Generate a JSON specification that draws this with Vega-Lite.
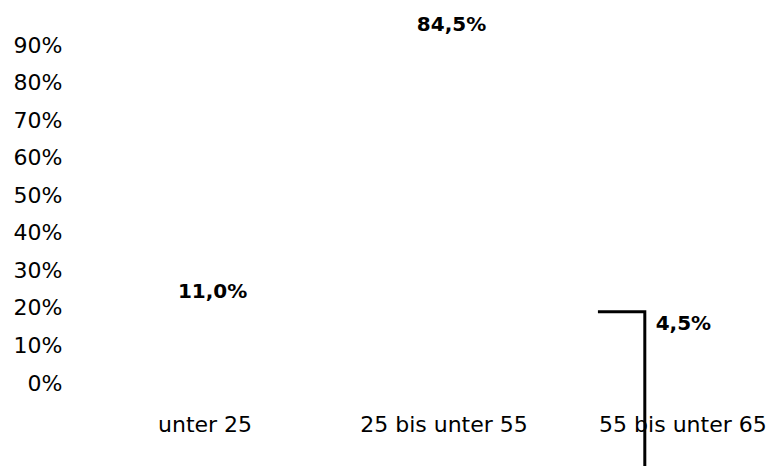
{
  "$schema": "https://vega.github.io/schema/vega-lite/v6.json",
  "width": 583,
  "height": 338,
  "autosize": {"type": "none"},
  "padding": {"left": 158, "top": 45, "right": 30, "bottom": 83},
  "background": "white",
  "config": {
    "view": {"stroke": null},
    "font": "DejaVu Sans",
    "locale": {"number": {"decimal": ",", "thousands": ".", "grouping": [3], "currency": ["", " €"]}}
  },
  "datasets": {
    "shares": [
      {"Alter": "unter 25", "Anteil": 0.11},
      {"Alter": "25 bis unter 55", "Anteil": 0.845},
      {"Alter": "55 bis unter 65", "Anteil": 0.045}
    ],
    "linie": [
      {"px": 1.611, "py": 0.19, "ord": 1},
      {"px": 1.804, "py": 0.19, "ord": 2},
      {"px": 1.804, "py": -0.25, "ord": 3}
    ]
  },
  "resolve": {"scale": {"x": "independent"}},
  "layer": [
    {
      "data": {"name": "shares"},
      "encoding": {
        "x": {
          "field": "Alter",
          "type": "nominal",
          "sort": null,
          "scale": {"type": "point", "padding": 0.2, "domain": ["unter 25", "25 bis unter 55", "55 bis unter 65"]},
          "axis": {
            "title": null,
            "domain": false,
            "ticks": false,
            "tickSize": 0,
            "grid": false,
            "labelAngle": 0,
            "labelPadding": 31,
            "labelFontSize": 22,
            "labelFont": "DejaVu Sans",
            "labelColor": "black",
            "labelLimit": 300,
            "labelOverlap": false,
            "labelOffset": {"condition": [{"test": "datum.value === '55 bis unter 65'", "value": -10}, {"test": "datum.value === '25 bis unter 55'", "value": -6}], "value": -2}
          }
        },
        "y": {
          "field": "Anteil",
          "type": "quantitative",
          "scale": {"domain": [0, 0.9], "nice": false},
          "axis": {
            "title": null,
            "values": [0, 0.1, 0.2, 0.3, 0.4, 0.5, 0.6, 0.7, 0.8, 0.9],
            "format": ".0%",
            "domain": false,
            "ticks": false,
            "tickSize": 0,
            "grid": false,
            "labelPadding": 96,
            "labelFontSize": 22,
            "labelFont": "DejaVu Sans",
            "labelColor": "black",
            "labelOverlap": false,
            "labelFlush": false
          }
        }
      },
      "layer": [
        {"mark": {"type": "bar", "color": "white", "size": 60}},
        {
          "transform": [{"filter": "datum.Alter === 'unter 25'"}],
          "mark": {"type": "text", "fontWeight": "bold", "fontSize": 20, "font": "DejaVu Sans", "color": "black", "baseline": "middle", "align": "center", "dx": 6, "dy": -50},
          "encoding": {"text": {"field": "Anteil", "type": "quantitative", "format": ".1%"}}
        },
        {
          "transform": [{"filter": "datum.Alter === '25 bis unter 55'"}],
          "mark": {"type": "text", "fontWeight": "bold", "fontSize": 20, "font": "DejaVu Sans", "color": "black", "baseline": "middle", "align": "center", "dx": 2, "dy": -41},
          "encoding": {"text": {"field": "Anteil", "type": "quantitative", "format": ".1%"}}
        },
        {
          "transform": [{"filter": "datum.Alter === '55 bis unter 65'"}],
          "mark": {"type": "text", "fontWeight": "bold", "fontSize": 20, "font": "DejaVu Sans", "color": "black", "baseline": "middle", "align": "center", "dx": -9, "dy": -42},
          "encoding": {"text": {"field": "Anteil", "type": "quantitative", "format": ".1%"}}
        }
      ]
    },
    {
      "data": {"name": "linie"},
      "mark": {"type": "line", "color": "black", "strokeWidth": 3, "strokeJoin": "miter", "strokeCap": "butt", "clip": false},
      "encoding": {
        "x": {"field": "px", "type": "quantitative", "scale": {"domain": [-0.2, 2.2], "nice": false, "zero": false}, "axis": null},
        "y": {
          "field": "py",
          "type": "quantitative",
          "scale": {"domain": [0, 0.9], "nice": false},
          "axis": {
            "title": null,
            "values": [0, 0.1, 0.2, 0.3, 0.4, 0.5, 0.6, 0.7, 0.8, 0.9],
            "format": ".0%",
            "domain": false,
            "ticks": false,
            "tickSize": 0,
            "grid": false,
            "labelPadding": 96,
            "labelFontSize": 22,
            "labelFont": "DejaVu Sans",
            "labelColor": "black",
            "labelOverlap": false,
            "labelFlush": false
          }
        },
        "order": {"field": "ord"}
      }
    }
  ]
}
